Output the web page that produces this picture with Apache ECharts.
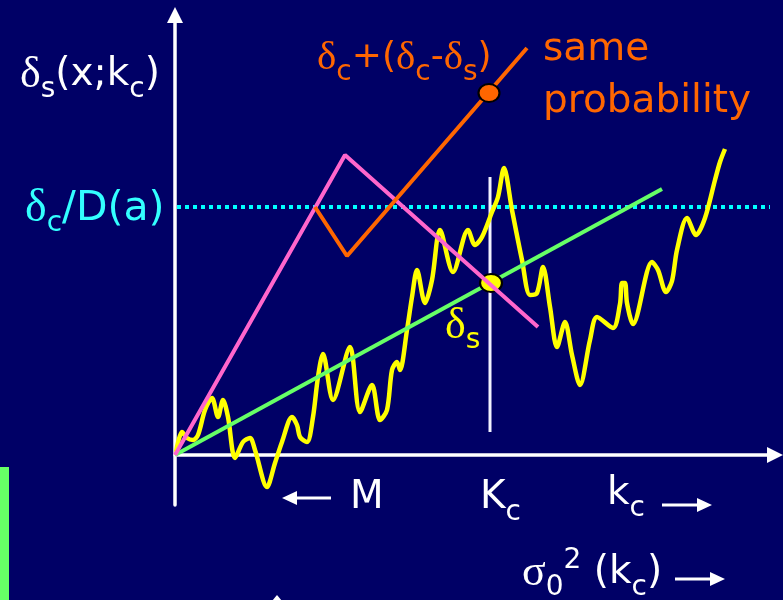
<!DOCTYPE html>
<html>
<head>
<meta charset="utf-8">
<script src="https://cdn.jsdelivr.net/npm/echarts@6/dist/echarts.min.js"></script>
<style>
  html, body { margin: 0; padding: 0; background: #000066; }
  #chart { width: 783px; height: 600px; }
</style>
</head>
<body>
<div id="chart"></div>
<script>
// Random-walk trajectory δs(x;kc) against σ0²(kc)
const walkX = [1, 7, 12, 18, 23, 30, 37, 43, 48, 53, 60, 68, 75, 80, 92, 100, 107, 117, 122, 125,
  132, 138, 143, 148, 158, 175, 185, 197, 205, 212, 217, 222, 225, 232, 237, 242, 250, 257, 265, 278,
  293, 300, 307, 317, 323, 329, 337, 347, 355, 362, 368, 375, 382, 390, 397, 405, 415, 422, 438, 445,
  447, 450, 452, 458, 477, 483, 491, 497, 502, 512, 521, 530, 540, 545, 550];
const walkY = [3, 23, 17, 15, 20, 45, 57, 38, 55, 38, -3, 13, 17, 5, -32, -8, 13, 38, 30, 18,
  13, 38, 78, 101, 55, 108, 43, 70, 35, 45, 85, 93, 85, 125, 158, 185, 152, 175, 225, 183,
  225, 210, 218, 243, 258, 287, 245, 195, 160, 162, 188, 148, 108, 133, 100, 70, 115, 138, 127, 151,
  172, 172, 152, 131, 193, 185, 163, 174, 205, 237, 220, 237, 275, 293, 306];

// Linear barrier (green)
const barrierX = [0, 487];
const barrierY = [0, 266];
// Path reflected about the threshold (pink)
const pinkX = [0, 170, 363];
const pinkY = [0, 300, 128];
// Mirrored path δc+(δc-δs) (orange)
const orangeX = [140, 172, 352];
const orangeY = [248, 199, 407];
// Threshold δc/D(a)
const thresholdY = 248;
const thresholdX = [2, 595];
// Kc marker
const kcX = 315;
const kcY = [23, 278];
// Highlighted points
const crossingPt = [316, 172];
const sameProbPt = [314, 362];

const pairs = (xs, ys) => xs.map((x, i) => [x, ys[i]]);

const chart = echarts.init(document.getElementById('chart'), null, { renderer: 'canvas' });

const NAVY = '#000066';
const SANS = 'DejaVu Sans';
const txt = (fill, size) => ({
  n: { fontSize: size, fontFamily: SANS, fill: fill },
  g: { fontSize: size + 5, fontFamily: 'Liberation Serif', fill: fill },
  sub: { fontSize: 28, fontFamily: SANS, fill: fill, padding: [30, 0, 0, 0] },
  sup: { fontSize: 28, fontFamily: SANS, fill: fill, padding: [0, 0, 24, 0] }
});
const label = (x, y, text, fill, size) => ({
  type: 'text', x: x, y: y, z: 50,
  style: { text: text, fill: fill, verticalAlign: 'middle', align: 'left', rich: txt(fill, size || 39) }
});
const arrow = (x1, x2, y, dir) => {
  // shaft from x1 to the head base, head tip at x2 pointing along dir
  const head = 15, half = 7;
  const base = x2 - dir * head;
  return [
    { type: 'line', z: 50, shape: { x1: x1, y1: y, x2: base, y2: y }, style: { stroke: '#fff', lineWidth: 3 } },
    { type: 'polygon', z: 50, shape: { points: [[x2, y], [base, y - half], [base, y + half]] }, style: { fill: '#fff' } }
  ];
};

const option = {
  animation: false,
  backgroundColor: NAVY,
  grid: { left: 175, right: 8, top: 15, bottom: 95 },
  xAxis: {
    type: 'value', min: 0, max: 600,
    axisLine: { onZero: true, lineStyle: { color: '#fff', width: 3.5 }, symbol: ['none', 'triangle'], symbolSize: [16, 16] },
    axisTick: { show: false }, axisLabel: { show: false }, splitLine: { show: false }
  },
  yAxis: {
    type: 'value', min: -50, max: 440,
    axisLine: { onZero: true, lineStyle: { color: '#fff', width: 3.5 }, symbol: ['none', 'triangle'], symbolSize: [16, 16] },
    axisTick: { show: false }, axisLabel: { show: false }, splitLine: { show: false }
  },
  series: [
    {
      type: 'line', symbol: 'none', z: 1,
      data: thresholdX.map(x => [x, thresholdY]),
      lineStyle: { color: '#00ffff', width: 4, type: [4, 4], cap: 'butt' }
    },
    {
      type: 'line', symbol: 'none', z: 2,
      data: kcY.map(y => [kcX, y]),
      lineStyle: { color: '#f2f2ff', width: 3 }
    },
    {
      type: 'line', symbol: 'none', z: 3, smooth: 0.3,
      data: pairs(walkX, walkY),
      lineStyle: { color: '#ffff00', width: 4.5 }
    },
    {
      type: 'line', symbol: 'none', z: 4,
      data: pairs(barrierX, barrierY),
      lineStyle: { color: '#66ff66', width: 4 }
    },
    {
      type: 'scatter', z: 5, symbol: 'circle', symbolSize: [22, 18],
      data: [crossingPt],
      itemStyle: { color: '#ffff00', borderColor: '#000', borderWidth: 2, opacity: 1 }
    },
    {
      type: 'line', symbol: 'none', z: 6,
      data: pairs(pinkX, pinkY),
      lineStyle: { color: '#ff66cc', width: 4 }
    },
    {
      type: 'line', symbol: 'none', z: 7,
      data: pairs(orangeX, orangeY),
      lineStyle: { color: '#ff6600', width: 4 }
    },
    {
      type: 'scatter', z: 8, symbol: 'circle', symbolSize: [21, 18],
      data: [sameProbPt],
      itemStyle: { color: '#ff6600', borderColor: '#000', borderWidth: 2, opacity: 1 }
    }
  ],
  graphic: [
    label(20, 75, '{g|δ}{sub|s}{n|(x;k}{sub|c}{n|)}', '#ffffff'),
    label(25, 209, '{g|δ}{sub|c}{n|/D(a)}', '#33ffff', 41),
    label(317, 58, '{g|δ}{sub|c}{n|+(}{g|δ}{sub|c}{n|-}{g|δ}{sub|s}{n|)}', '#ff6600', 36),
    label(543, 50, '{n|same}', '#ff6600'),
    label(543, 102, '{n|probability}', '#ff6600'),
    label(445, 326, '{g|δ}{sub|s}', '#ffff00'),
    label(350, 498, '{n|M}', '#ffffff'),
    label(480, 498, '{n|K}{sub|c}', '#ffffff'),
    label(607, 494, '{n|k}{sub|c}', '#ffffff'),
    label(522, 573, '{g|σ}{sub|0}{sup|2}{n| (k}{sub|c}{n|)}', '#ffffff'),
    ...arrow(331, 282, 498, -1),
    ...arrow(662, 712, 505, 1),
    ...arrow(675, 725, 579, 1),
    { type: 'rect', z: 50, shape: { x: 0, y: 467, width: 9, height: 133 }, style: { fill: '#66ff66' } },
    { type: 'polygon', z: 50, shape: { points: [[277, 595], [272, 601], [282, 601]] }, style: { fill: '#fff' } }
  ]
};

chart.setOption(option);
</script>
</body>
</html>
